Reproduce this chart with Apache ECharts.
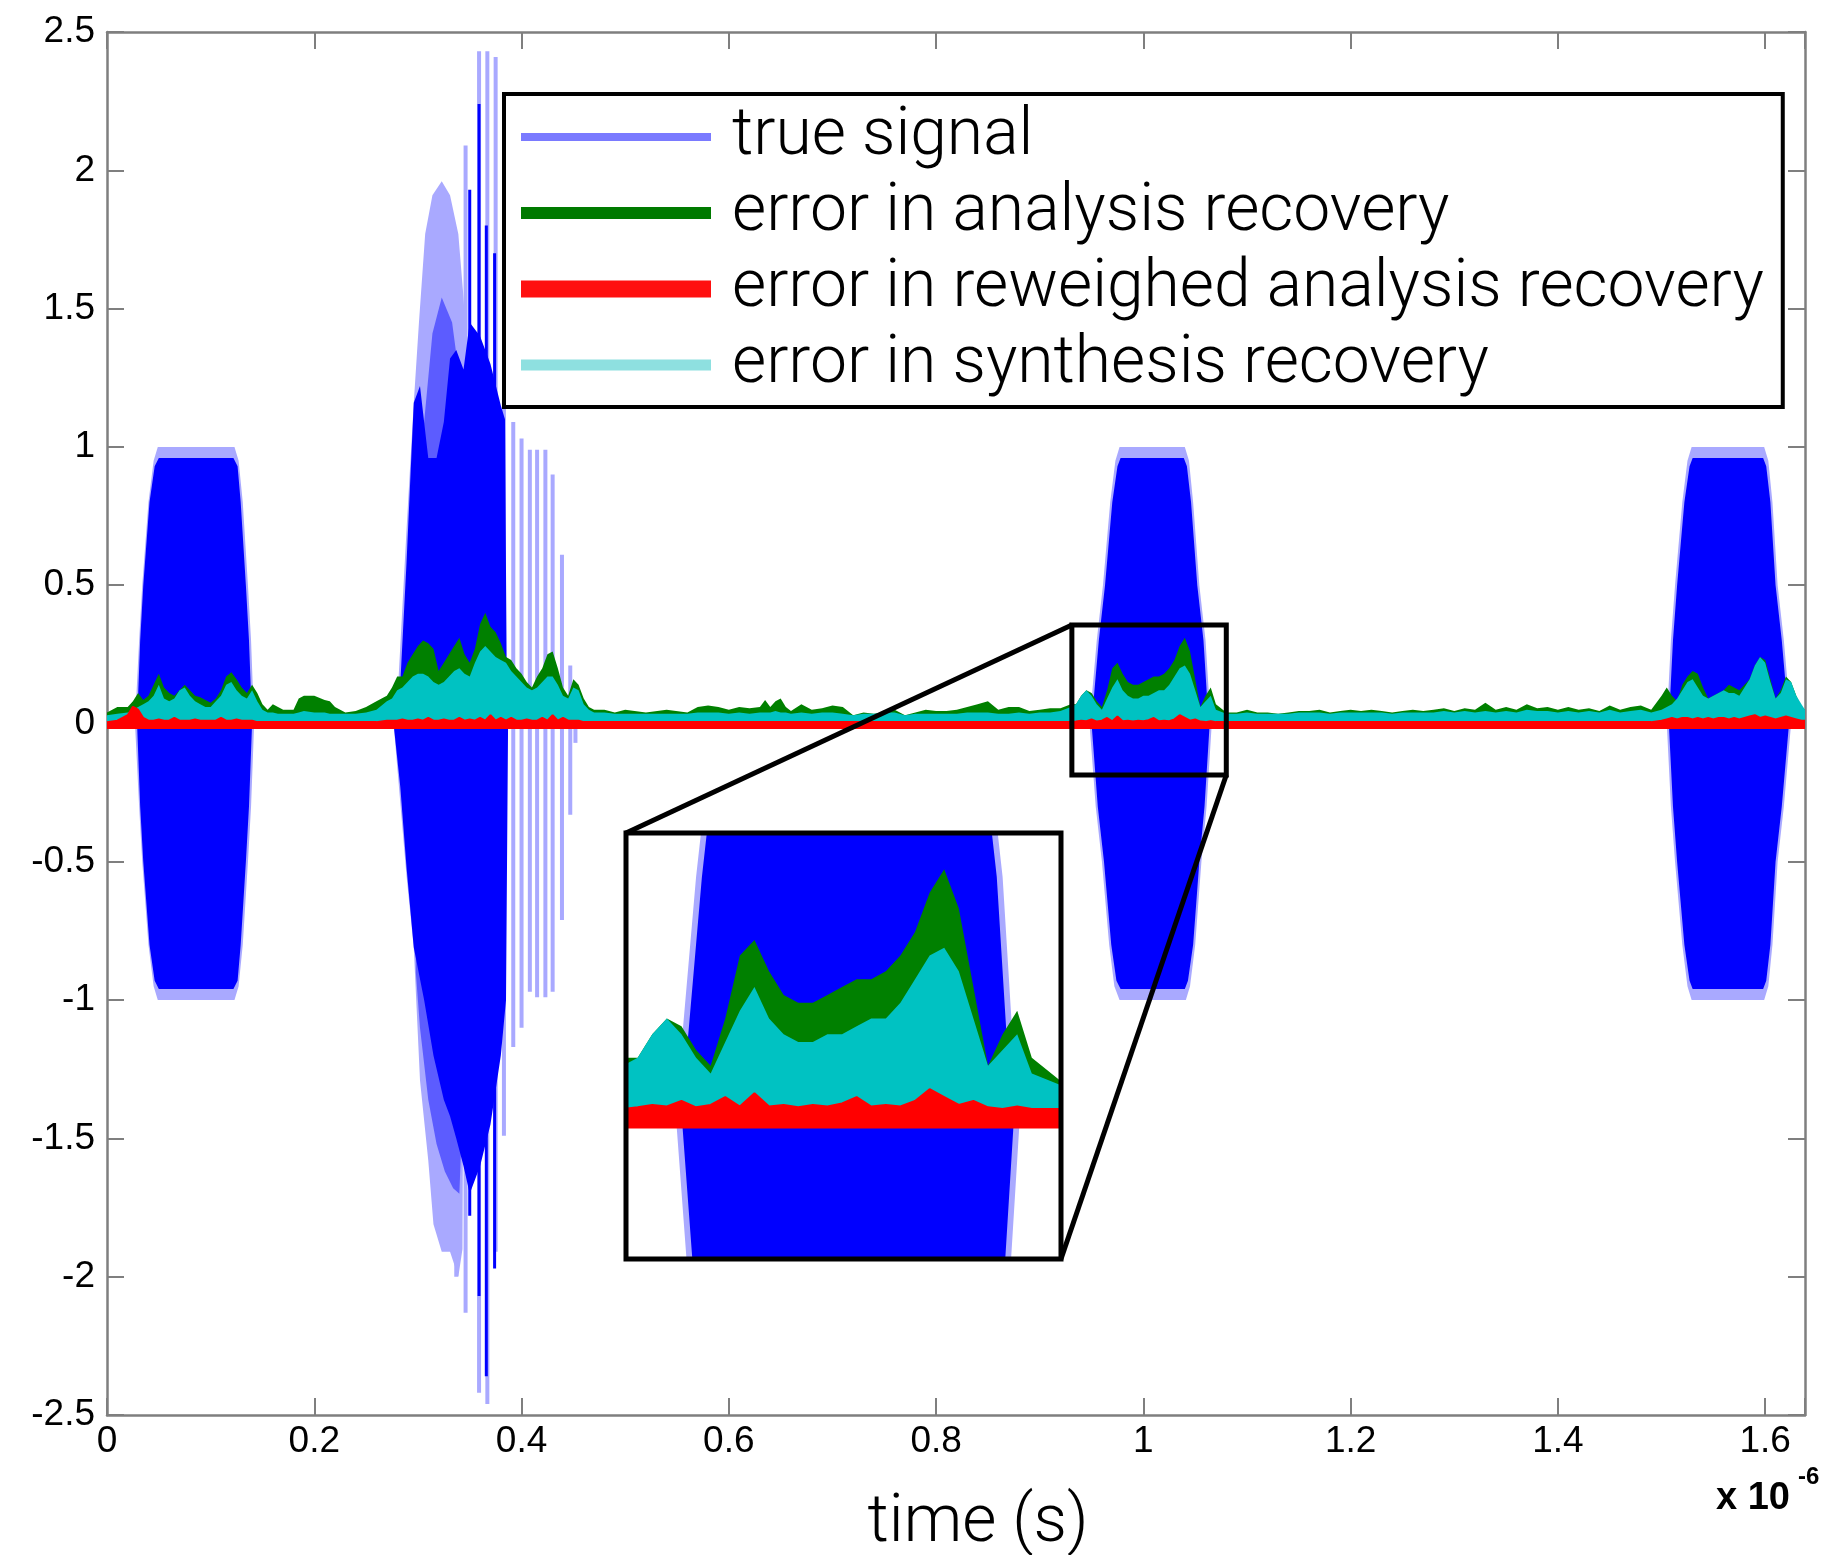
<!DOCTYPE html>
<html>
<head>
<meta charset="utf-8">
<script src="https://cdn.jsdelivr.net/npm/echarts/dist/echarts.min.js"></script>
<style>
html,body{margin:0;padding:0;background:#fff;}
#chart{width:1837px;height:1555px;}
</style>
</head>
<body>
<div id="chart"></div>
<script>
// ---------------- tick labels / names ----------------
const xTickLabels = ['0','0.2','0.4','0.6','0.8','1','1.2','1.4','1.6'];
const yTickLabels = ['-2.5','-2','-1.5','-1','-0.5','0','0.5','1','1.5','2','2.5'];
const legendNames = ['true signal','error in analysis recovery','error in reweighed analysis recovery','error in synthesis recovery'];
const xRange = [0, 1.6384];
const yRange = [-2.5, 2.5];
const insetXRange = [0.931, 1.080];
const insetYRange = [-0.186, 0.356];

// ---------------- true signal envelopes ----------------
const sigOuterHi = [[0,0],[0.027,0],[0.031,0.3],[0.034,0.5],[0.040,0.8],[0.045,0.95],[0.049,1.0],[0.123,1.0],[0.127,0.95],[0.131,0.8],[0.136,0.5],[0.139,0.3],[0.142,0],
 [0.279,0],[0.289,0.70],[0.296,1.16],[0.301,1.45],[0.307,1.77],[0.314,1.91],[0.323,1.96],[0.331,1.91],[0.339,1.77],[0.344,1.54],[0.348,1.30],[0.350,0],
 [0.948,0],[0.955,0.3],[0.961,0.5],[0.968,0.8],[0.973,0.95],[0.977,1.0],[1.040,1.0],[1.044,0.95],[1.048,0.8],[1.054,0.5],[1.060,0.3],[1.065,0],
 [1.505,0],[1.509,0.3],[1.513,0.5],[1.520,0.8],[1.525,0.95],[1.529,1.0],[1.599,1.0],[1.603,0.95],[1.607,0.8],[1.612,0.5],[1.618,0.3],[1.625,0],[1.6384,0]];
const sigOuterLo = [[0,0],[0.027,0],[0.031,-0.3],[0.034,-0.5],[0.040,-0.8],[0.045,-0.95],[0.049,-1.0],[0.123,-1.0],[0.127,-0.95],[0.131,-0.8],[0.136,-0.5],[0.139,-0.3],[0.142,0],
 [0.2765,0],[0.289,-0.55],[0.296,-0.81],[0.302,-1.29],[0.310,-1.58],[0.315,-1.81],[0.323,-1.91],[0.331,-1.91],[0.339,-2.0],[0.343,-1.9],[0.345,0],
 [0.948,0],[0.954,-0.3],[0.960,-0.5],[0.967,-0.8],[0.972,-0.95],[0.977,-1.0],[1.041,-1.0],[1.045,-0.95],[1.050,-0.8],[1.056,-0.5],[1.061,-0.3],[1.066,0],
 [1.505,0],[1.509,-0.3],[1.513,-0.5],[1.520,-0.8],[1.525,-0.95],[1.529,-1.0],[1.599,-1.0],[1.603,-0.95],[1.607,-0.8],[1.612,-0.5],[1.618,-0.3],[1.625,0],[1.6384,0]];
const sigMidHi = [[0,0],[0.303,0],[0.304,1.0],[0.306,1.09],[0.314,1.41],[0.323,1.54],[0.333,1.45],[0.339,1.28],[0.342,1.03],[0.343,0],[1.6384,0]];
const sigMidLo = [[0,0],[0.297,0],[0.298,-0.9],[0.302,-1.1],[0.310,-1.36],[0.318,-1.52],[0.326,-1.62],[0.334,-1.68],[0.340,-1.70],[0.342,-1.5],[0.343,0],[1.6384,0]];
const sigCoreHi = [[0,0],[0.029,0],[0.032,0.3],[0.035,0.5],[0.041,0.8],[0.046,0.93],[0.050,0.96],[0.122,0.96],[0.126,0.93],[0.129,0.8],[0.134,0.5],[0.137,0.3],[0.140,0],
 [0.281,0],[0.289,0.58],[0.296,1.16],[0.302,1.22],[0.310,0.96],[0.318,0.96],[0.325,1.09],[0.331,1.32],[0.337,1.35],[0.344,1.28],[0.350,1.45],[0.360,1.40],[0.370,1.30],[0.380,1.15],[0.384,1.10],[0.386,0],
 [0.950,0],[0.957,0.3],[0.963,0.5],[0.970,0.8],[0.975,0.93],[0.978,0.96],[1.039,0.96],[1.042,0.93],[1.046,0.8],[1.052,0.5],[1.058,0.3],[1.063,0],
 [1.507,0],[1.511,0.3],[1.515,0.5],[1.522,0.8],[1.527,0.93],[1.530,0.96],[1.598,0.96],[1.601,0.93],[1.605,0.8],[1.610,0.5],[1.616,0.3],[1.623,0],[1.6384,0]];
const sigCoreLo = [[0,0],[0.029,0],[0.032,-0.3],[0.035,-0.5],[0.041,-0.8],[0.046,-0.93],[0.050,-0.96],[0.122,-0.96],[0.126,-0.93],[0.129,-0.8],[0.134,-0.5],[0.137,-0.3],[0.140,0],
 [0.2765,0],[0.283,-0.23],[0.289,-0.52],[0.296,-0.81],[0.306,-1.0],[0.315,-1.2],[0.325,-1.36],[0.331,-1.42],[0.337,-1.50],[0.344,-1.60],[0.350,-1.70],[0.360,-1.60],[0.370,-1.45],[0.380,-1.20],[0.385,-1.0],[0.387,0],
 [0.950,0],[0.956,-0.3],[0.962,-0.5],[0.969,-0.8],[0.974,-0.93],[0.978,-0.96],[1.040,-0.96],[1.043,-0.93],[1.048,-0.8],[1.054,-0.5],[1.059,-0.3],[1.064,0],
 [1.507,0],[1.511,-0.3],[1.515,-0.5],[1.522,-0.8],[1.527,-0.93],[1.530,-0.96],[1.598,-0.96],[1.601,-0.93],[1.605,-0.8],[1.610,-0.5],[1.616,-0.3],[1.623,0],[1.6384,0]];
// individual chirp cycles: [x, min, max]
const chirpSpikesLight = [[0.337,-2.0,1.38],[0.346,-2.13,2.09],[0.359,-2.42,2.43],[0.367,-2.46,2.43],[0.375,-1.91,2.41],[0.383,-1.49,1.17],[0.392,-1.17,1.09],[0.400,-1.10,1.03],[0.408,-0.97,0.99],[0.415,-0.99,0.99],[0.423,-0.99,0.99],[0.430,-0.97,0.90],[0.439,-0.71,0.61],[0.447,-0.33,0.21],[0.452,-0.07,0.05]];
const chirpSpikesDark = [[0.350,-1.78,1.93],[0.359,-2.07,2.24],[0.366,-2.36,1.80],[0.374,-1.97,1.70]];

// ---------------- recovery errors ----------------
const errX = [0,0.01,0.02,0.025,0.03,0.035,0.04,0.045,0.05,0.055,0.06,0.065,0.07,0.075,0.08,0.085,0.09,0.095,0.1,0.105,
 0.11,0.115,0.12,0.125,0.13,0.135,0.14,0.145,0.15,0.155,0.16,0.165,0.17,0.18,0.185,0.19,0.2,0.21,0.215,0.22,
 0.23,0.24,0.25,0.26,0.27,0.275,0.28,0.285,0.29,0.295,0.3,0.305,0.31,0.315,0.32,0.325,0.33,0.335,0.34,0.345,
 0.35,0.355,0.36,0.365,0.37,0.375,0.38,0.385,0.39,0.395,0.4,0.405,0.41,0.415,0.42,0.425,0.43,0.435,0.44,0.445,
 0.45,0.455,0.46,0.465,0.47,0.48,0.49,0.5,0.52,0.54,0.56,0.57,
 0.58,0.59,0.6,0.61,0.62,0.63,0.635,0.64,0.645,0.65,0.655,0.66,0.67,0.68,0.69,0.7,0.71,0.72,0.73,0.74,
 0.75,0.76,0.77,0.78,0.79,0.8,0.81,0.82,0.83,0.84,0.85,0.86,0.87,0.88,0.89,0.9,0.91,0.92,0.93,0.935,
 0.94,0.945,0.95,0.955,0.96,0.965,0.97,0.975,0.98,0.985,0.99,0.995,1,1.005,1.01,1.015,1.02,1.025,1.03,1.035,
 1.04,1.045,1.05,1.055,1.06,1.065,1.07,1.08,1.09,1.1,
 1.11,1.12,1.13,1.14,1.15,1.16,1.17,1.18,1.19,1.2,1.21,1.22,1.23,1.24,1.25,1.26,1.27,1.28,1.29,1.3,
 1.31,1.32,1.33,1.34,1.35,1.36,1.37,1.38,1.39,1.4,1.41,1.42,1.43,1.44,1.45,1.46,1.47,1.48,1.49,1.5,
 1.505,1.51,1.515,1.52,1.525,1.53,1.535,1.54,1.545,1.55,1.555,1.56,1.565,1.57,1.575,1.58,1.585,1.59,1.595,1.6,
 1.605,1.61,1.615,1.62,1.625,1.63,1.635,1.6384];
const errAnalysis = [0.04,0.06,0.06,0.08,0.11,0.085,0.10,0.14,0.18,0.13,0.11,0.10,0.12,0.14,0.12,0.10,0.095,0.085,0.075,0.09,
 0.12,0.17,0.185,0.16,0.13,0.11,0.14,0.11,0.07,0.05,0.07,0.06,0.05,0.05,0.09,0.10,0.10,0.085,0.08,0.06,
 0.04,0.045,0.06,0.08,0.10,0.13,0.17,0.17,0.22,0.25,0.28,0.30,0.29,0.27,0.19,0.22,0.25,0.28,0.31,0.25,
 0.22,0.27,0.36,0.40,0.35,0.33,0.29,0.24,0.23,0.20,0.18,0.15,0.13,0.17,0.20,0.25,0.26,0.20,0.13,0.10,
 0.16,0.14,0.09,0.06,0.05,0.05,0.04,0.05,0.04,0.05,0.04,0.06,
 0.065,0.06,0.05,0.06,0.055,0.06,0.085,0.06,0.08,0.09,0.06,0.045,0.07,0.05,0.055,0.065,0.06,0.03,0.04,0.035,
 0.04,0.05,0.03,0.04,0.05,0.045,0.045,0.05,0.06,0.07,0.08,0.05,0.06,0.06,0.045,0.05,0.055,0.055,0.07,0.07,
 0.10,0.12,0.11,0.08,0.06,0.12,0.20,0.22,0.18,0.15,0.14,0.14,0.15,0.16,0.17,0.17,0.18,0.20,0.23,0.28,
 0.31,0.26,0.16,0.06,0.10,0.13,0.07,0.04,0.04,0.05,
 0.04,0.04,0.035,0.04,0.045,0.045,0.05,0.04,0.045,0.05,0.045,0.05,0.045,0.04,0.045,0.05,0.045,0.05,0.055,0.045,
 0.055,0.05,0.075,0.05,0.06,0.05,0.07,0.055,0.06,0.05,0.06,0.05,0.055,0.045,0.065,0.05,0.06,0.065,0.05,0.10,
 0.13,0.10,0.08,0.14,0.17,0.19,0.18,0.13,0.09,0.10,0.11,0.12,0.14,0.13,0.12,0.14,0.16,0.21,0.24,0.23,
 0.16,0.09,0.12,0.17,0.15,0.10,0.06,0.05];
const errSynthesis = [0.03,0.035,0.04,0.05,0.06,0.07,0.08,0.10,0.14,0.09,0.08,0.09,0.12,0.13,0.10,0.08,0.07,0.06,0.06,0.08,
 0.10,0.14,0.15,0.12,0.10,0.09,0.12,0.08,0.05,0.04,0.04,0.035,0.035,0.035,0.04,0.045,0.04,0.04,0.035,0.035,
 0.035,0.035,0.04,0.05,0.08,0.09,0.12,0.13,0.15,0.17,0.18,0.18,0.17,0.15,0.14,0.15,0.17,0.19,0.20,0.18,
 0.17,0.22,0.26,0.28,0.26,0.24,0.23,0.22,0.19,0.17,0.15,0.13,0.12,0.13,0.15,0.17,0.17,0.14,0.10,0.09,
 0.13,0.12,0.07,0.05,0.04,0.04,0.035,0.035,0.035,0.035,0.035,0.04,
 0.04,0.04,0.035,0.04,0.035,0.04,0.04,0.04,0.045,0.04,0.04,0.035,0.04,0.035,0.04,0.04,0.035,0.03,0.035,0.035,
 0.04,0.04,0.03,0.035,0.035,0.035,0.035,0.035,0.04,0.04,0.04,0.035,0.035,0.04,0.035,0.04,0.04,0.045,0.06,0.07,
 0.10,0.12,0.10,0.07,0.05,0.09,0.13,0.16,0.12,0.10,0.09,0.09,0.10,0.10,0.11,0.12,0.12,0.14,0.17,0.20,
 0.21,0.18,0.12,0.06,0.08,0.10,0.05,0.035,0.035,0.04,
 0.035,0.035,0.035,0.035,0.04,0.04,0.04,0.035,0.04,0.04,0.04,0.04,0.04,0.035,0.04,0.04,0.04,0.04,0.045,0.04,
 0.045,0.04,0.045,0.04,0.045,0.04,0.05,0.045,0.045,0.04,0.045,0.04,0.045,0.04,0.05,0.04,0.045,0.05,0.04,0.05,
 0.06,0.07,0.09,0.12,0.15,0.16,0.13,0.10,0.09,0.10,0.11,0.12,0.11,0.11,0.10,0.13,0.16,0.21,0.24,0.22,
 0.15,0.09,0.11,0.16,0.15,0.10,0.07,0.05];
const errReweighted = [0.005,0.01,0.03,0.06,0.05,0.02,0.01,0.01,0.015,0.01,0.01,0.02,0.01,0.01,0.01,0.015,0.01,0.01,0.01,0.01,
 0.02,0.01,0.01,0.015,0.01,0.01,0.01,0.005,0.005,0.005,0.005,0.005,0.005,0.005,0.005,0.005,0.005,0.005,0.005,0.005,
 0.005,0.005,0.005,0.005,0.01,0.01,0.01,0.015,0.01,0.01,0.015,0.01,0.02,0.01,0.01,0.015,0.01,0.01,0.02,0.01,
 0.015,0.01,0.02,0.01,0.03,0.01,0.02,0.01,0.02,0.01,0.01,0.015,0.01,0.01,0.02,0.01,0.03,0.01,0.02,0.01,
 0.01,0.01,0.005,0.005,0.005,0.005,0.005,0.005,0.005,0.005,0.005,0.005,
 0.005,0.005,0.005,0.005,0.005,0.005,0.005,0.005,0.005,0.005,0.005,0.005,0.005,0.005,0.005,0.005,0.005,0.005,0.005,0.005,
 0.005,0.005,0.005,0.005,0.005,0.005,0.005,0.005,0.005,0.005,0.005,0.005,0.005,0.005,0.005,0.005,0.005,0.005,0.005,0.007,
 0.01,0.008,0.015,0.007,0.01,0.02,0.008,0.025,0.008,0.01,0.007,0.01,0.008,0.012,0.02,0.008,0.01,0.008,0.015,0.03,
 0.02,0.01,0.015,0.007,0.005,0.008,0.005,0.005,0.005,0.005,
 0.005,0.005,0.005,0.005,0.005,0.005,0.005,0.005,0.005,0.005,0.005,0.005,0.005,0.005,0.005,0.005,0.005,0.005,0.005,0.005,
 0.005,0.005,0.005,0.005,0.005,0.005,0.005,0.005,0.005,0.005,0.005,0.005,0.005,0.005,0.005,0.005,0.005,0.005,0.005,0.01,
 0.015,0.02,0.015,0.02,0.02,0.015,0.02,0.015,0.02,0.015,0.02,0.02,0.015,0.02,0.015,0.02,0.025,0.03,0.02,0.025,
 0.02,0.015,0.02,0.025,0.02,0.015,0.01,0.01];

// ---------------- styling ----------------
const C = {light:'#a9a9ff', mid:'#5c5cff', dark:'#0000ff', green:'#008000', cyan:'#00c2c2', red:'#ff0000', axis:'#7f7f7f'};
const legendColors = ['#7a7aff', '#007a00', '#ff1010', '#8ee0e0'];
const legendThickness = [8, 12, 17, 11];
const LEG_W = 190, LEG_H = 20;
const RED_FLOOR = -0.02;   // lower edge of the thick red trace
function bandIcon(t) {
  const y0 = (LEG_H - t) / 2, y1 = y0 + t;
  return 'path://M0,0L0.01,0L0,0.01Z M0,' + y0 + 'L' + LEG_W + ',' + y0 + 'L' + LEG_W + ',' + y1 + 'L0,' + y1 + 'Z M' + LEG_W + ',' + LEG_H + 'L' + (LEG_W - 0.01) + ',' + LEG_H + 'L' + LEG_W + ',' + (LEG_H - 0.01) + 'Z';
}

const pairs = (ys) => errX.map((x, i) => [x, ys[i]]);

function areaSeries(name, data, color, xi, yi, z) {
  return {name, type:'line', data, xAxisIndex:xi, yAxisIndex:yi, symbol:'none', showSymbol:false,
    lineStyle:{width:0, color}, itemStyle:{color}, areaStyle:{color, opacity:1}, z, silent:true, clip:true};
}
function spikeSeries(name, data, color, w) {
  return {name, type:'custom', data, xAxisIndex:0, yAxisIndex:0, z:2, silent:true,
    encode:{x:0, y:[1,2]}, itemStyle:{color},
    renderItem: function (params, api) {
      const top = api.coord([api.value(0), api.value(2)]);
      const bot = api.coord([api.value(0), api.value(1)]);
      return {type:'rect', shape:{x:top[0] - w/2, y:top[1], width:w, height:bot[1] - top[1]}, style:{fill:color}};
    }};
}
function redSeries(xi, yi, w, z) {
  return {name:legendNames[2], type:'line', data:pairs(errReweighted), xAxisIndex:xi, yAxisIndex:yi, symbol:'none', showSymbol:false,
    lineStyle:{width:w, color:C.red}, itemStyle:{color:C.red}, areaStyle:{color:C.red, opacity:1, origin:RED_FLOOR}, z, silent:true, clip:true};
}

const xFmt = (v) => { const i = Math.round(v / 0.2); return Math.abs(v - i * 0.2) < 1e-6 && xTickLabels[i] !== undefined ? xTickLabels[i] : ''; };
const yFmt = (v) => { const i = Math.round((v + 2.5) / 0.5); return Math.abs(v - (i * 0.5 - 2.5)) < 1e-6 && yTickLabels[i] !== undefined ? yTickLabels[i] : ''; };

const tickStyle = {inside:true, length:17, lineStyle:{color:C.axis, width:2}};
const lineStyleAxis = {onZero:false, lineStyle:{color:C.axis, width:2.5}};
const labelFont = {color:'#000', fontFamily:'Liberation Sans, Arial, sans-serif', fontSize:37};

const option = {
  animation:false,
  backgroundColor:'#fff',
  grid:[
    {left:107, top:32, width:1698, height:1383, outerBoundsMode:'none', containLabel:false},
    {left:626, top:833, width:435, height:426, show:true, backgroundColor:'#fff', borderWidth:0, z:5, outerBoundsMode:'none', containLabel:false}
  ],
  xAxis:[
    {type:'value', gridIndex:0, position:'bottom', min:xRange[0], max:xRange[1], interval:0.2,
      axisLine:lineStyleAxis, axisTick:tickStyle, splitLine:{show:false},
      axisLabel:Object.assign({margin:8, formatter:xFmt}, labelFont),
      name:'time (s)', nameLocation:'middle', nameGap:76,
      nameTextStyle:{color:'#000', fontFamily:'Roboto, Helvetica, sans-serif', fontWeight:300, fontSize:66, padding:[0,0,0,44]}},
    {type:'value', gridIndex:0, position:'top', min:xRange[0], max:xRange[1], interval:0.2,
      axisLine:lineStyleAxis, axisTick:tickStyle, splitLine:{show:false}, axisLabel:{show:false}},
    {type:'value', gridIndex:1, min:insetXRange[0], max:insetXRange[1], show:false, splitLine:{show:false}}
  ],
  yAxis:[
    {type:'value', gridIndex:0, position:'left', min:yRange[0], max:yRange[1], interval:0.5,
      axisLine:lineStyleAxis, axisTick:tickStyle, splitLine:{show:false},
      axisLabel:Object.assign({margin:12, formatter:yFmt}, labelFont)},
    {type:'value', gridIndex:0, position:'right', min:yRange[0], max:yRange[1], interval:0.5,
      axisLine:lineStyleAxis, axisTick:tickStyle, splitLine:{show:false}, axisLabel:{show:false}},
    {type:'value', gridIndex:1, min:insetYRange[0], max:insetYRange[1], show:false, splitLine:{show:false}}
  ],
  legend:{
    orient:'vertical', left:504, top:94, z:20,
    padding:[10, 19, 9, 17],
    backgroundColor:'#fff', borderColor:'#000', borderWidth:4,
    itemWidth:LEG_W, itemHeight:LEG_H, itemGap:10, selectedMode:false,
    itemStyle:{borderWidth:0},
    textStyle:{color:'#000', fontFamily:'Roboto, Helvetica, sans-serif', fontWeight:300, fontSize:66, lineHeight:60, padding:[0,0,0,16]},
    data: legendNames.map((n, i) => ({name:n, icon:bandIcon(legendThickness[i]), itemStyle:{color:legendColors[i], borderWidth:0}}))
  },
  series:[
    areaSeries(legendNames[0], sigOuterHi, C.light, 0, 0, 2),
    areaSeries(legendNames[0], sigOuterLo, C.light, 0, 0, 2),
    spikeSeries(legendNames[0], chirpSpikesLight, C.light, 4),
    areaSeries(legendNames[0], sigMidHi, C.mid, 0, 0, 2),
    areaSeries(legendNames[0], sigMidLo, C.mid, 0, 0, 2),
    areaSeries(legendNames[0], sigCoreHi, C.dark, 0, 0, 2),
    areaSeries(legendNames[0], sigCoreLo, C.dark, 0, 0, 2),
    spikeSeries(legendNames[0], chirpSpikesDark, C.dark, 3),
    areaSeries(legendNames[1], pairs(errAnalysis), C.green, 0, 0, 2),
    areaSeries(legendNames[3], pairs(errSynthesis), C.cyan, 0, 0, 2),
    redSeries(0, 0, 2, 2),
    // inset (zoomed copy)
    areaSeries(legendNames[0], sigOuterHi, C.light, 2, 2, 6),
    areaSeries(legendNames[0], sigOuterLo, C.light, 2, 2, 6),
    areaSeries(legendNames[0], sigCoreHi, C.dark, 2, 2, 6),
    areaSeries(legendNames[0], sigCoreLo, C.dark, 2, 2, 6),
    areaSeries(legendNames[1], pairs(errAnalysis), C.green, 2, 2, 6),
    areaSeries(legendNames[3], pairs(errSynthesis), C.cyan, 2, 2, 6),
    redSeries(2, 2, 2, 6)
  ]
};

const chart = echarts.init(document.getElementById('chart'), null, {renderer:'canvas'});
chart.setOption(option);

// zoom box, inset frame and connectors computed from the axes
const tl = chart.convertToPixel({xAxisIndex:0, yAxisIndex:0}, [insetXRange[0], insetYRange[1]]);
const br = chart.convertToPixel({xAxisIndex:0, yAxisIndex:0}, [insetXRange[1], insetYRange[0]]);
const itl = chart.convertToPixel({xAxisIndex:2, yAxisIndex:2}, [insetXRange[0], insetYRange[1]]);
const ibr = chart.convertToPixel({xAxisIndex:2, yAxisIndex:2}, [insetXRange[1], insetYRange[0]]);
const gridRight = chart.convertToPixel({xAxisIndex:0, yAxisIndex:0}, [xRange[1], yRange[0]]);
const blk = {stroke:'#000', lineWidth:5, fill:null};
chart.setOption({
  graphic:[
    {type:'rect', z:30, silent:true, shape:{x:tl[0], y:tl[1], width:br[0]-tl[0], height:br[1]-tl[1]}, style:blk},
    {type:'rect', z:30, silent:true, shape:{x:itl[0], y:itl[1], width:ibr[0]-itl[0], height:ibr[1]-itl[1]}, style:blk},
    {type:'line', z:30, silent:true, shape:{x1:tl[0], y1:tl[1], x2:itl[0], y2:itl[1]}, style:{stroke:'#000', lineWidth:5}},
    {type:'line', z:30, silent:true, shape:{x1:br[0], y1:br[1], x2:ibr[0], y2:ibr[1]}, style:{stroke:'#000', lineWidth:5}},
    {type:'text', z:30, silent:true, x:gridRight[0] - 89, y:gridRight[1] + 84,
      style:{text:'x 10', fill:'#000', font:'bold 38px "Liberation Sans", Arial, sans-serif', verticalAlign:'middle', align:'left'}},
    {type:'text', z:30, silent:true, x:gridRight[0] - 7, y:gridRight[1] + 62,
      style:{text:'-6', fill:'#000', font:'bold 24px "Liberation Sans", Arial, sans-serif', verticalAlign:'middle', align:'left'}}
  ]
});
</script>
</body>
</html>
